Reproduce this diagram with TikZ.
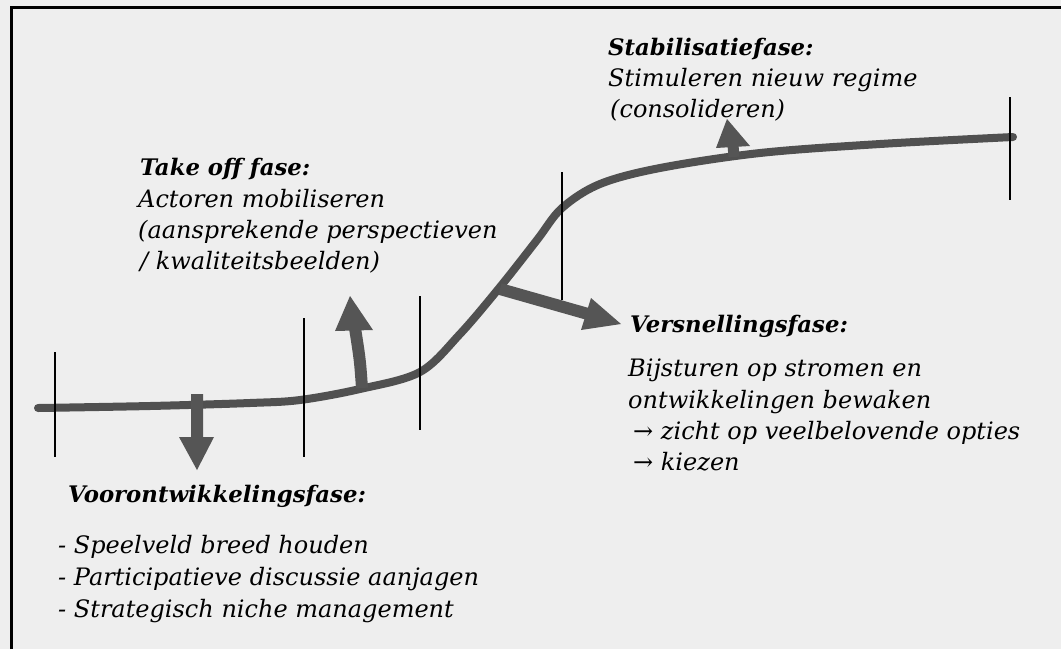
\documentclass[tikz,border=0pt]{standalone}
\usepackage{fontspec}
\setmainfont{DejaVu Serif}
\begin{document}
\begin{tikzpicture}[x=1pt,y=-1pt,
  txt/.style={anchor=base west,inner sep=0pt,font=\fontsize{24}{28}\selectfont\itshape},
  head/.style={txt,font=\fontsize{22.8}{28}\selectfont\bfseries\itshape},
  tick/.style={black,line width=2pt},
  curve/.style={draw=curvegray,line width=8pt,line cap=round},
  blockarrow/.style={fill=arrowgray,draw=none},
  shaft/.style={draw=arrowgray,line width=12pt}]
\definecolor{curvegray}{HTML}{505050}
\definecolor{arrowgray}{HTML}{555555}
\definecolor{bg}{HTML}{EEEEEE}
\useasboundingbox (0,0) rectangle (1061,649);
\fill[bg] (0,0) rectangle (1061,649);
% frame
\draw[black,line width=3pt] (11,649) -- (11,7) -- (1061,7);
% S-curve
\draw[curve] plot[smooth,tension=0.55] coordinates {(38,408) (150,406) (250,403) (300,400) (360,389) (420,372) (460,334) (500,287) (537,240) (562,208) (600,184) (660,168) (760,153) (880,144) (1013,137)};
% ticks
\draw[tick] (55,352) -- (55,457);
\draw[tick] (304,318) -- (304,457);
\draw[tick] (420,296) -- (420,430);
\draw[tick] (562,172) -- (562,300);
\draw[tick] (1010,97) -- (1010,200);
% arrows
\fill[blockarrow] (191,394) -- (203,394) -- (203,437) -- (214,437) -- (197,470) -- (179,437) -- (191,437) -- cycle;
\draw[shaft] (362,388) .. controls (360,360) .. (355,328);
\fill[blockarrow] (335,331) -- (350,296) -- (373,330) -- cycle;
\draw[shaft] (500,289) -- (588,314);
\fill[blockarrow] (591,298) -- (621,324) -- (581,330) -- cycle;
\draw[shaft,line width=11pt] (734,157) -- (733,145);
\fill[blockarrow] (716,148) -- (727,119) -- (750,146) -- cycle;
% texts
\node[head] (t0) at (140,175) {Take off fase:};
\node[txt] (t1) at (138,207) {Actoren mobiliseren};
\node[txt] (t2) at (138,238) {(aansprekende perspectieven};
\node[txt] (t3) at (140,269) {/ kwaliteitsbeelden)};
\node[head] (s0) at (608,55) {Stabilisatiefase:};
\node[txt] (s1) at (608,86) {Stimuleren nieuw regime};
\node[txt] (s2) at (610,117) {(consolideren)};
\node[head] (v0) at (630,332) {Versnellingsfase:};
\node[txt] (v1) at (628,376) {Bijsturen op stromen en};
\node[txt] (v2) at (628,408) {ontwikkelingen bewaken};
\node[txt] (v3) at (633,439) {→ zicht op veelbelovende opties};
\node[txt] (v4) at (633,470) {→ kiezen};
\node[head] (p0) at (68,502) {Voorontwikkelingsfase:};
\node[txt] (p1) at (58,553) {- Speelveld breed houden};
\node[txt] (p2) at (58,585) {- Participatieve discussie aanjagen};
\node[txt] (p3) at (58,617) {- Strategisch niche management};
\end{tikzpicture}
\end{document}
